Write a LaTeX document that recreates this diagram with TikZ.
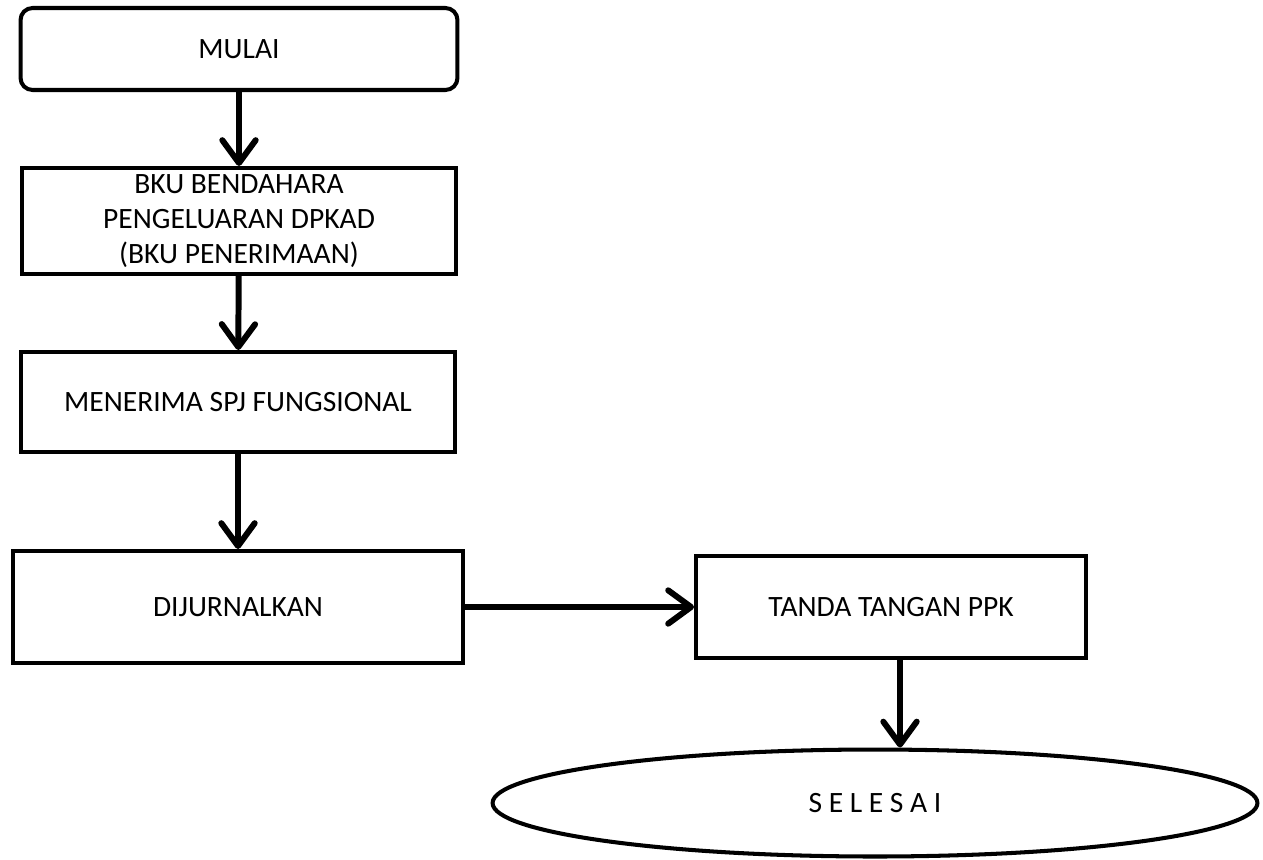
\documentclass[tikz,border=0pt]{standalone}
\usepackage{fontspec}
\setmainfont{Carlito}
\usetikzlibrary{positioning}
\usetikzlibrary{shapes.geometric}
\usetikzlibrary{arrows.meta}

\tikzset{
    stepbox/.style={draw, line width=2.3pt, align=center, inner sep=0pt,
        font=\fontsize{16.8}{20}\selectfont},
    flow/.style={-{Straight Barb[length=13pt,width=19pt,round]}, line width=3.4pt}
}

\begin{document}
\begin{tikzpicture}[x=0.02cm,y=-0.02cm]
        \useasboundingbox (0,0) rectangle (1263,859);
        \node[stepbox, rounded corners=0.24cm, minimum width=8.74cm, minimum height=1.64cm] (mulai) at (239,49) {MULAI};
        \node[stepbox, minimum width=8.7cm, minimum height=2.12cm] (bku) at (239,221) {BKU BENDAHARA\\PENGELUARAN DPKAD\\(BKU PENERIMAAN)};
        \node[stepbox, minimum width=8.7cm, minimum height=2cm] (terima) at (238,402) {MENERIMA SPJ FUNGSIONAL};
        \node[stepbox, minimum width=9cm, minimum height=2.24cm] (jurnal) at (238,607) {DIJURNALKAN};
        \node[stepbox, minimum width=7.8cm, minimum height=2.04cm] (tanda) at (891,607) {TANDA TANGAN PPK};
        \node[stepbox, ellipse, minimum width=15.3cm, minimum height=2.14cm] (selesai) at (875,803) {S E L E S A I};
        \coordinate (tandaout) at (900,658);
        \draw[flow] (mulai) -- (bku);
        \draw[flow] (bku) -- (terima);
        \draw[flow] (terima) -- (jurnal);
        \draw[flow] (jurnal) -- (tanda);
        \draw[flow] (tandaout) -- (tandaout |- selesai.north);
    \end{tikzpicture}
\end{document}
